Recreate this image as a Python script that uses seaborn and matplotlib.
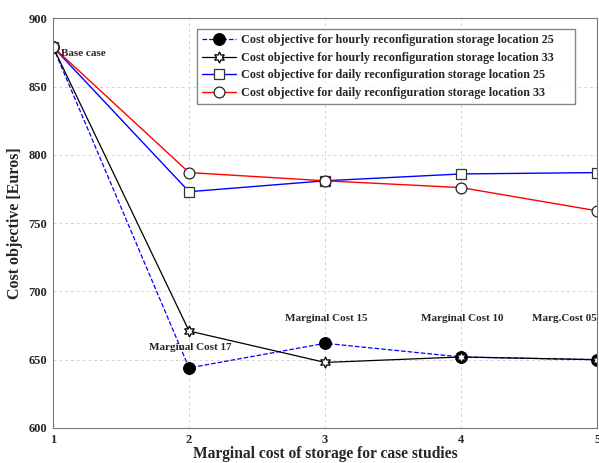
import matplotlib.pyplot as plt
import seaborn as sns

# Data
cases = [1, 2, 3, 4, 5]
hourly_25 = [879, 644, 662, 652, 650]
hourly_33 = [879, 671, 648, 652, 650]
daily_25 = [879, 773, 781, 786, 787]
daily_33 = [879, 787, 781, 776, 759]

labels = [
    "Cost objective for hourly reconfiguration storage location 25",
    "Cost objective for hourly reconfiguration storage location 33",
    "Cost objective for daily reconfiguration storage location 25",
    "Cost objective for daily reconfiguration storage location 33",
]

sns.set_style("white")
plt.rcParams["font.family"] = ["Liberation Serif", "DejaVu Serif"]
plt.rcParams["font.weight"] = "bold"

fig = plt.figure(figsize=(5.99, 4.63), dpi=100)
ax = fig.add_axes([0.0885, 0.0756, 0.9085, 0.885])

styles = [
    (hourly_25, dict(color="blue", linestyle="--", linewidth=0.9, marker="o",
                     markersize=8.5, markerfacecolor="black", markeredgecolor="black")),
    (hourly_33, dict(color="black", linestyle="-", linewidth=0.9, marker=(6, 1, 0),
                     markersize=8, markerfacecolor="white", markeredgecolor="black",
                     markeredgewidth=0.9)),
    (daily_25, dict(color="blue", linestyle="-", linewidth=1.0, marker="s",
                    markersize=7, markerfacecolor="white", markeredgecolor="#333333",
                    markeredgewidth=0.9)),
    (daily_33, dict(color="red", linestyle="-", linewidth=1.0, marker="o",
                    markersize=7.8, markerfacecolor="white", markeredgecolor="#222222",
                    markeredgewidth=0.9)),
]

for (vals, kw), lab in zip(styles, labels):
    sns.lineplot(x=cases, y=vals, ax=ax, label=lab, **kw)

ax.set_xlim(1, 5)
ax.set_ylim(600, 900)
ax.set_xticks(cases)
ax.set_yticks(range(600, 901, 50))
ax.grid(True, linestyle=(0, (3, 3)), color="#d4d4d4", linewidth=0.7)
for s in ax.spines.values():
    s.set_color("#777777")
ax.tick_params(direction="out", length=3, labelsize=9, pad=1, color="#777777")
for t in ax.get_xticklabels() + ax.get_yticklabels():
    t.set_fontweight("bold")

ax.set_xlabel("Marginal cost of storage for case studies", fontsize=11.2,
              fontweight="bold", labelpad=0)
ax.set_ylabel("Cost objective [Euros]", fontsize=11.5, fontweight="bold", labelpad=4)

ax.text(1.06, 874, "Base case", fontsize=8, fontweight="bold", va="center")
ax.text(2.01, 657, "Marginal Cost 17", fontsize=8, fontweight="bold", ha="center")
ax.text(3.01, 678, "Marginal Cost 15", fontsize=8, fontweight="bold", ha="center")
ax.text(4.01, 678, "Marginal Cost 10", fontsize=8, fontweight="bold", ha="center")
ax.text(4.995, 678, "Marg.Cost 05", fontsize=8, fontweight="bold", ha="right")

leg = ax.legend(loc="upper left", bbox_to_anchor=(0.2646, 0.8, 0.6946, 0.1736),
                mode="expand", fontsize=8.7,
                frameon=True, fancybox=False, edgecolor="#666666",
                handlelength=2.8, handletextpad=0.4, borderpad=0.45,
                labelspacing=0.45, borderaxespad=0)
leg.get_frame().set_linewidth(1.0)
for t in leg.get_texts():
    t.set_fontweight("bold")

fig.savefig("out.png", dpi=100)
